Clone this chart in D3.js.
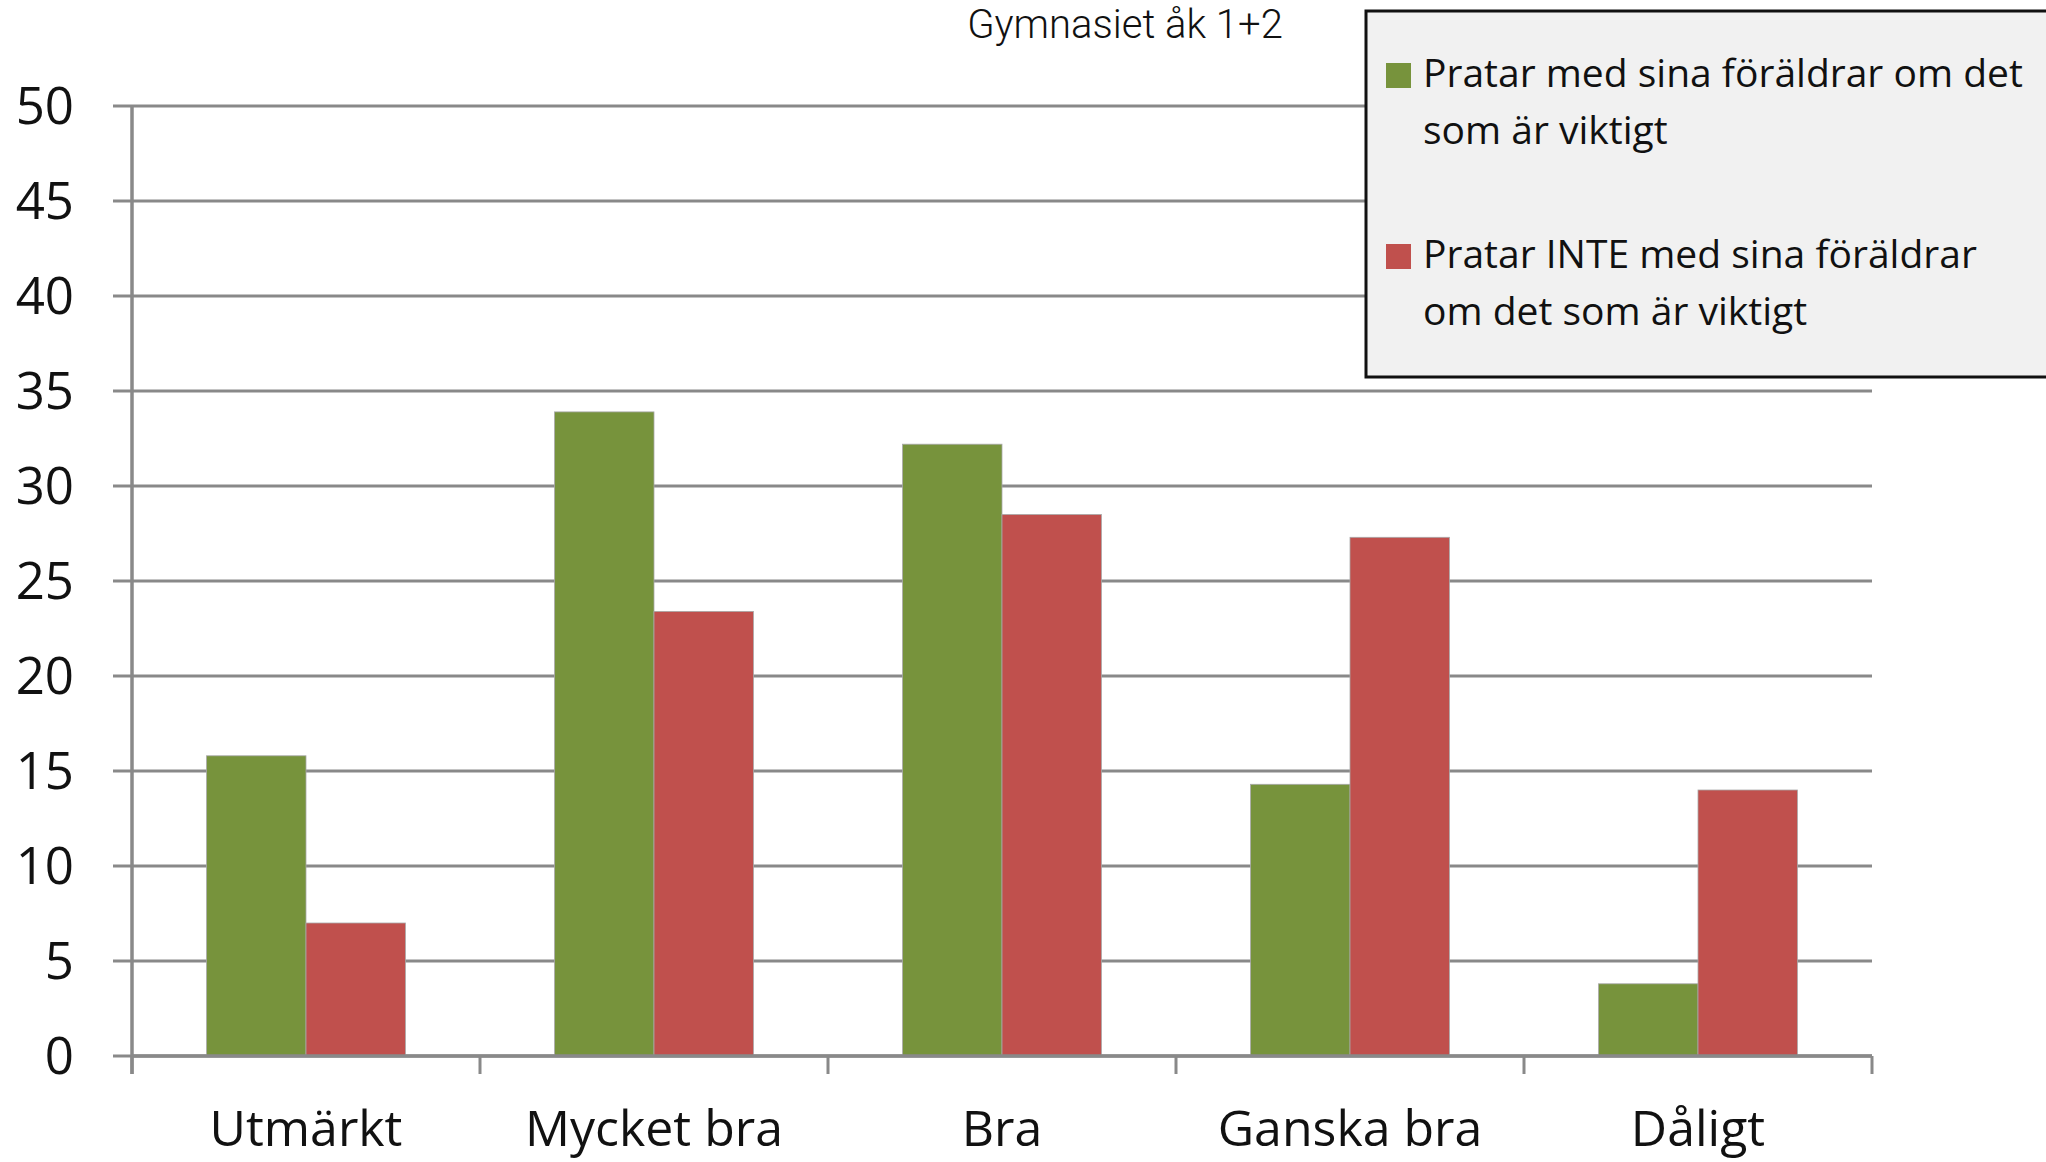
<!DOCTYPE html>
<html>
<head>
<meta charset="utf-8">
<script src="https://cdn.jsdelivr.net/npm/d3@7"></script>
<style>
  html, body { margin: 0; padding: 0; background: #fff; }
  svg { display: block; }
</style>
</head>
<body>
<svg id="chart" width="2046" height="1162"></svg>
<script>
// Chart data
const categories = ["Utmärkt", "Mycket bra", "Bra", "Ganska bra", "Dåligt"];
const seriesNames = [
  ["Pratar med sina föräldrar om det", "som är viktigt"],
  ["Pratar INTE med sina föräldrar", "om det som är viktigt"]
];
const pratar = [15.8, 33.9, 32.2, 14.3, 3.8];
const pratarInte = [7.0, 23.4, 28.5, 27.3, 14.0];
const yTicks = [0, 5, 10, 15, 20, 25, 30, 35, 40, 45, 50];
const title = "Gymnasiet åk 1+2";

const colors = ["#77933C", "#C0504D"];
const gridColor = "#898989";
const labelFont = "'Open Sans', 'Liberation Sans', sans-serif";

const svg = d3.select("#chart");
const plotLeft = 132, plotRight = 1872, plotTop = 106, plotBottom = 1056;

const x = d3.scaleBand().domain(categories).range([plotLeft, plotRight]).paddingInner(0).paddingOuter(0);
const y = d3.scaleLinear().domain([0, 50]).range([plotBottom, plotTop]);

// Horizontal gridlines (extend slightly left of the axis as tick marks)
svg.append("g")
  .selectAll("line")
  .data(yTicks)
  .join("line")
  .attr("x1", plotLeft - 19)
  .attr("x2", plotRight)
  .attr("y1", d => y(d))
  .attr("y2", d => y(d))
  .attr("stroke", gridColor)
  .attr("stroke-width", 3);

// Y tick labels
svg.append("g")
  .selectAll("text")
  .data(yTicks)
  .join("text")
  .attr("x", 74)
  .attr("y", d => y(d))
  .attr("dy", "0.36em")
  .attr("text-anchor", "end")
  .attr("font-family", labelFont)
  .attr("font-size", 51)
  .attr("fill", "#111")
  .text(d => d);

// Bars: two series side by side inside each category band
const inner = d3.scaleBand().domain([0, 1]).range([0, x.bandwidth()]).paddingOuter(0.75).paddingInner(0);
const seriesValues = [pratar, pratarInte];
seriesValues.forEach((vals, si) => {
  svg.append("g")
    .selectAll("rect")
    .data(categories)
    .join("rect")
    .attr("x", (c) => x(c) + inner(si))
    .attr("width", inner.bandwidth())
    .attr("y", (c, i) => y(vals[i]))
    .attr("height", (c, i) => y(0) - y(vals[i]))
    .attr("fill", colors[si])
    .attr("stroke", "#a8a8a8")
    .attr("stroke-width", 0.8);
});

// X axis baseline and ticks
svg.append("line")
  .attr("x1", plotLeft).attr("x2", plotRight)
  .attr("y1", plotBottom).attr("y2", plotBottom)
  .attr("stroke", gridColor).attr("stroke-width", 3.5);
const tickPos = categories.map(c => x(c)).concat([plotRight]);
svg.append("g")
  .selectAll("line")
  .data(tickPos)
  .join("line")
  .attr("x1", d => d).attr("x2", d => d)
  .attr("y1", plotBottom).attr("y2", plotBottom + 18)
  .attr("stroke", gridColor).attr("stroke-width", 3);

// Y axis line
svg.append("line")
  .attr("x1", plotLeft).attr("x2", plotLeft)
  .attr("y1", plotTop).attr("y2", plotBottom + 18)
  .attr("stroke", gridColor).attr("stroke-width", 3.5);

// Category labels
svg.append("g")
  .selectAll("text")
  .data(categories)
  .join("text")
  .attr("x", c => x(c) + x.bandwidth() / 2)
  .attr("y", 1146)
  .attr("text-anchor", "middle")
  .attr("font-family", labelFont)
  .attr("font-size", 50)
  .attr("fill", "#111")
  .text(c => c);

// Title
svg.append("text")
  .attr("x", 1125)
  .attr("y", 38)
  .attr("text-anchor", "middle")
  .attr("font-family", "Roboto, sans-serif")
  .attr("font-weight", 300)
  .attr("font-size", 40)
  .attr("fill", "#111")
  .text(title);

// Legend
const legend = svg.append("g");
legend.append("rect")
  .attr("x", 1366).attr("y", 11)
  .attr("width", 720).attr("height", 366)
  .attr("fill", "#f1f1f1")
  .attr("stroke", "#111").attr("stroke-width", 3);

const legendRows = [87, 268];
seriesNames.forEach((lines, i) => {
  legend.append("rect")
    .attr("x", 1386).attr("y", legendRows[i] - 24)
    .attr("width", 25).attr("height", 25)
    .attr("fill", colors[i]);
  const t = legend.append("text")
    .attr("font-family", labelFont)
    .attr("font-size", 39)
    .attr("fill", "#111");
  lines.forEach((ln, j) => {
    t.append("tspan")
      .attr("x", 1423)
      .attr("y", legendRows[i] + j * 57)
      .text(ln);
  });
});
</script>
</body>
</html>
